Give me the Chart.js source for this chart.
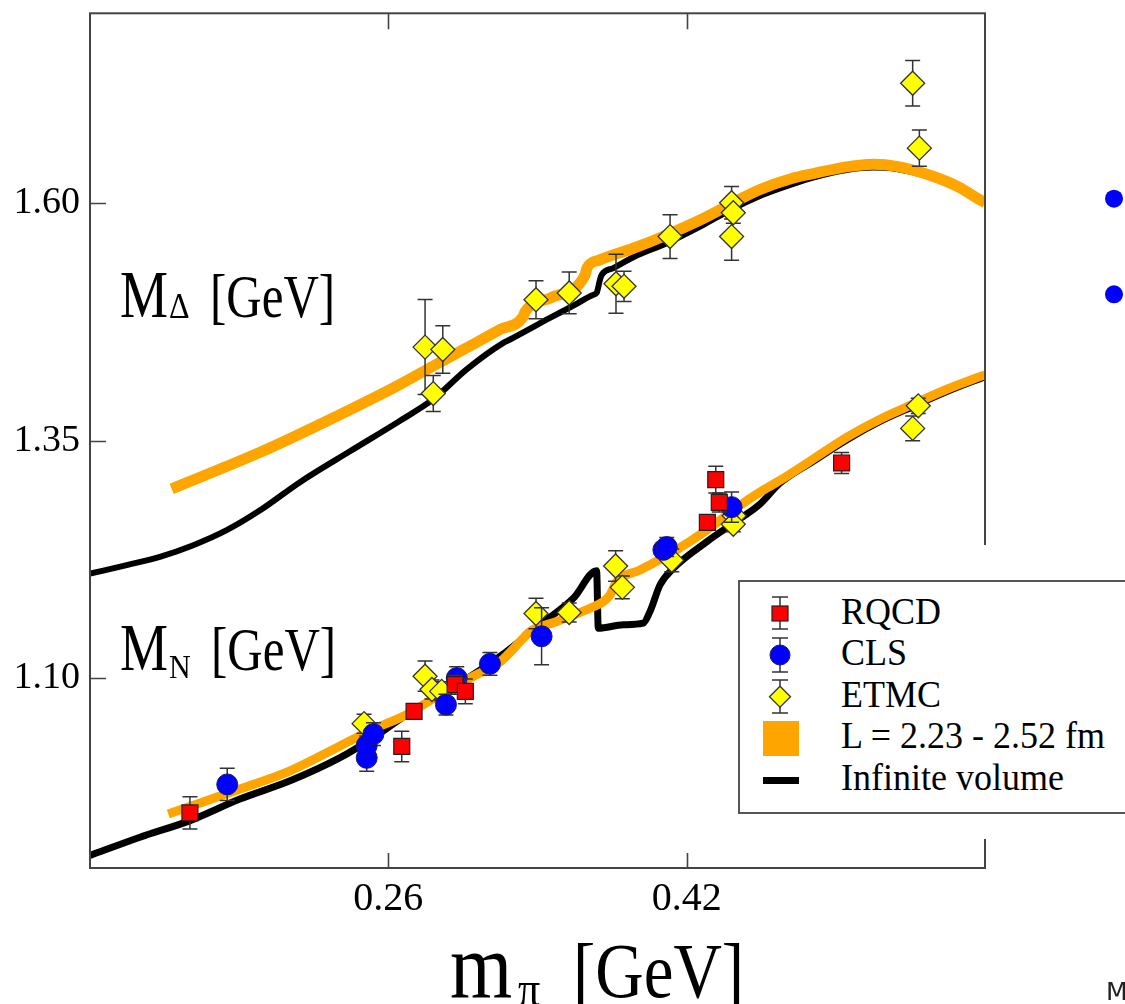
<!DOCTYPE html>
<html>
<head>
<meta charset="utf-8">
<script src="https://cdn.jsdelivr.net/npm/chart.js@4.4.1/dist/chart.umd.min.js"></script>
<style>
html,body{margin:0;padding:0;background:#fff;}
#wrap{position:relative;width:1125px;height:1004px;overflow:hidden;font-family:"Liberation Serif","Times New Roman",serif;color:#000;}
#c{position:absolute;left:0;top:0;}
.t{position:absolute;white-space:nowrap;line-height:1;margin:0;padding:0;}
#patch{position:absolute;left:722px;top:545px;width:410px;height:294px;background:#fff;}
#lbox{position:absolute;left:738px;top:580px;width:420px;height:234px;border:2px solid #555;box-sizing:border-box;background:#fff;}
#ov{position:absolute;left:0;top:0;}
</style>
</head>
<body>
<div id="wrap">
<canvas id="c" width="1125" height="1004"></canvas>
<div id="patch"></div>
<div id="lbox"></div>
<svg id="ov" width="1125" height="1004" xmlns="http://www.w3.org/2000/svg">
  <g stroke="#333" stroke-width="1.5">
    <line x1="780" y1="597" x2="780" y2="629"/><line x1="772" y1="597" x2="788" y2="597"/><line x1="772" y1="629" x2="788" y2="629"/>
    <line x1="780" y1="638" x2="780" y2="672"/><line x1="772" y1="638" x2="788" y2="638"/><line x1="772" y1="672" x2="788" y2="672"/>
    <line x1="780" y1="680" x2="780" y2="713"/><line x1="772" y1="680" x2="788" y2="680"/><line x1="772" y1="713" x2="788" y2="713"/>
  </g>
  <rect x="772" y="606" width="16" height="15" fill="#ff0000" stroke="#222" stroke-width="1.2"/>
  <circle cx="780" cy="655" r="10" fill="#0000ff" stroke="#1a1a66" stroke-width="1"/>
  <polygon points="769.5,696.7 780,686.2 790.5,696.7 780,707.2" fill="#ffff00" stroke="#333" stroke-width="1.3"/>
  <rect x="763" y="721" width="36" height="35" fill="#ffa500"/>
  <rect x="763" y="777" width="36" height="7" fill="#000"/>
  <circle cx="1114" cy="198.7" r="9" fill="#0000ff"/>
  <circle cx="1114" cy="294.3" r="9" fill="#0000ff"/>
</svg>
</div>
<script>
// ---------------- data ----------------
const xTickValues = [0.26, 0.42];
const yTickValues = [1.10, 1.35, 1.60];

const rqcdX   = [0.1536, 0.2672, 0.2738, 0.2958, 0.3013, 0.4311, 0.4356, 0.4375, 0.5031];
const rqcdY   = [0.958, 1.028, 1.065, 1.093, 1.086, 1.264, 1.309, 1.285, 1.3265];
const rqcdErr = [0.017, 0.016, 0.007, 0.010, 0.013, 0.006, 0.014, 0.010, 0.011];

const clsX   = [0.1736, 0.2484, 0.2484, 0.2520, 0.2909, 0.2967, 0.3145, 0.3422, 0.4075, 0.4093, 0.4441];
const clsY   = [0.988, 1.016, 1.029, 1.041, 1.072, 1.100, 1.115, 1.144, 1.235, 1.238, 1.280];
const clsErr = [0.017, 0.014, 0.010, 0.012, 0.011, 0.012, 0.012, 0.030, 0.007, 0.010, 0.016];

const etmcX   = [0.2470, 0.2797, 0.2834, 0.2886, 0.3392, 0.3570, 0.3819, 0.3855, 0.4120, 0.4455, 0.4450, 0.5442, 0.5412,
                 0.2797, 0.2892, 0.2841, 0.3392, 0.3570, 0.3821, 0.3864, 0.4111, 0.4441, 0.4441, 0.4450, 0.5412, 0.5448];
const etmcY   = [1.052, 1.102, 1.088, 1.086, 1.168, 1.169, 1.218, 1.1955, 1.224, 1.271, 1.262, 1.3867, 1.3629,
                 1.4485, 1.446, 1.3996, 1.4984, 1.5055, 1.5152, 1.5125, 1.5649, 1.5649, 1.6005, 1.590, 1.7263, 1.658];
const etmcErr = [0.010, 0.016, 0.010, 0.010, 0.016, 0.010, 0.016, 0.012, 0.012, 0.010, 0.008, 0.008, 0.013,
                 0.050, 0.025, 0.019, 0.020, 0.022, 0.031, 0.016, 0.023, 0.025, 0.017, 0.011, 0.024, 0.019];

const orangeDeltaX = [0.1438, 0.1912, 0.2287, 0.2663, 0.2841, 0.3020, 0.3199, 0.3324, 0.3333, 0.3467, 0.3655, 0.3665, 0.3735, 0.3914, 0.4093, 0.4272, 0.4477, 0.4584, 0.4763, 0.4879, 0.5058, 0.5201, 0.5326, 0.5505, 0.5657, 0.5791, 0.5800];
const orangeDeltaY = [1.2993, 1.3377, 1.3723, 1.4093, 1.4286, 1.4478, 1.4670, 1.4810, 1.4855, 1.5002, 1.5243, 1.5317, 1.5404, 1.5526, 1.5666, 1.5823, 1.6033, 1.6137, 1.6260, 1.6312, 1.6383, 1.6410, 1.6389, 1.6295, 1.6173, 1.6016, 1.6008];

const blackDeltaX = [0.1000, 0.1197, 0.1375, 0.1554, 0.1733, 0.1912, 0.2126, 0.2394, 0.2663, 0.2841, 0.3020, 0.3217, 0.3253, 0.3467, 0.3600, 0.3700, 0.3717, 0.3735, 0.3744, 0.3807, 0.3914, 0.4093, 0.4272, 0.4450, 0.4584, 0.4700, 0.4879, 0.5058, 0.5201, 0.5326, 0.5505, 0.5684, 0.5800];
const blackDeltaY = [1.2099, 1.2190, 1.2277, 1.2399, 1.2557, 1.2766, 1.3063, 1.3388, 1.3710, 1.3936, 1.4251, 1.4530, 1.4565, 1.4792, 1.4930, 1.5037, 1.5055, 1.5194, 1.5246, 1.5317, 1.5432, 1.5579, 1.5754, 1.5945, 1.6068, 1.6155, 1.6270, 1.6349, 1.6375, 1.6360, 1.6276, 1.6124, 1.6008];

const orangeNX = [0.1420, 0.1626, 0.1804, 0.2073, 0.2341, 0.2519, 0.2699, 0.2877, 0.3056, 0.3199, 0.3324, 0.3360, 0.3503, 0.3682, 0.3753, 0.3789, 0.3825, 0.3950, 0.4128, 0.4307, 0.4486, 0.4593, 0.4700, 0.4879, 0.5058, 0.5237, 0.5415, 0.5595, 0.5800];
const orangeNY = [0.9569, 0.9709, 0.9831, 1.0023, 1.0285, 1.0460, 1.0617, 1.0827, 1.1019, 1.1171, 1.1420, 1.1490, 1.1595, 1.1735, 1.1805, 1.1875, 1.2015, 1.2137, 1.2329, 1.2557, 1.2819, 1.2958, 1.3081, 1.3307, 1.3535, 1.3726, 1.3884, 1.4041, 1.4195];

const blackNX = [0.1000, 0.1268, 0.1536, 0.1804, 0.2073, 0.2341, 0.2519, 0.2699, 0.2877, 0.3056, 0.3199, 0.3413, 0.3592, 0.3717, 0.3726, 0.3860, 0.3967, 0.4003, 0.4057, 0.4128, 0.4307, 0.4486, 0.4593, 0.4700, 0.4879, 0.5058, 0.5237, 0.5415, 0.5595, 0.5800];
const blackNY = [0.9132, 0.9324, 0.9499, 0.9726, 0.9918, 1.0162, 1.0372, 1.0617, 1.0827, 1.1037, 1.1228, 1.1561, 1.1840, 1.2130, 1.1525, 1.1561, 1.1578, 1.1700, 1.1980, 1.2154, 1.2434, 1.2678, 1.2832, 1.3052, 1.3283, 1.3508, 1.3702, 1.3860, 1.4017, 1.4174];

const legendLabels = ['RQCD', 'CLS', 'ETMC', 'L = 2.23 - 2.52 fm', 'Infinite volume'];

// ---------------- helpers ----------------
const pts = (xs, ys) => xs.map((x, i) => ({x: x, y: ys[i]}));
const wrap = document.getElementById('wrap');
function addText(txt, left, baseline, size, sy, family, color) {
  const d = document.createElement('div');
  d.className = 't';
  const asc = family && family.indexOf('DejaVu') >= 0 ? 0.846 : 0.8375;
  d.style.left = left + 'px';
  d.style.top = (baseline - asc * size) + 'px';
  d.style.fontSize = size + 'px';
  if (family) d.style.fontFamily = family;
  if (color) d.style.color = color;
  if (sy && sy !== 1) {
    d.style.transformOrigin = '0 ' + (asc * size) + 'px';
    d.style.transform = 'scaleY(' + sy + ')';
  }
  d.textContent = txt;
  wrap.appendChild(d);
}

// legend texts
const legendBase = [624, 665.5, 707, 748.5, 790];
legendLabels.forEach((s, i) => addText(s, 841, legendBase[i], 36, 1.03));

// in-plot annotations
addText('M', 120, 317, 54, 1.24);
addText('\u0394', 169, 318, 32, 1.1);
addText('[GeV]', 210, 317, 49, 1.24);
addText('M', 120, 670, 54, 1.24);
addText('N', 169, 678, 30, 1.1);
addText('[GeV]', 211, 670, 49, 1.24);
// axis title
addText('m', 450, 997, 80, 1.17);
addText('\u03c0', 518, 1007, 44, 1.17);
addText('[GeV]', 573, 997, 67, 1.17);
// cut-off text from neighbouring panel
addText('M', 1106, 1000, 25, 1, '"DejaVu Sans", sans-serif', '#222');

// ---------------- plugin: error bars, frame, inward ticks ----------------
const framePlugin = {
  id: 'frameTicks',
  beforeDatasetDraw(chart, args) {
    const ds = chart.data.datasets[args.index];
    if (!ds.errors) return;
    const ctx = chart.ctx, xs = chart.scales.x, ys = chart.scales.y;
    ctx.save();
    ctx.strokeStyle = '#333';
    ctx.lineWidth = 1.5;
    ds.data.forEach((p, i) => {
      const e = ds.errors[i];
      const px = xs.getPixelForValue(p.x);
      const y1 = ys.getPixelForValue(p.y + e);
      const y2 = ys.getPixelForValue(p.y - e);
      ctx.beginPath();
      ctx.moveTo(px, y1); ctx.lineTo(px, y2);
      ctx.moveTo(px - 7.5, y1); ctx.lineTo(px + 7.5, y1);
      ctx.moveTo(px - 7.5, y2); ctx.lineTo(px + 7.5, y2);
      ctx.stroke();
    });
    ctx.restore();
  },
  afterDraw(chart) {
    const ctx = chart.ctx, a = chart.chartArea, xs = chart.scales.x, ys = chart.scales.y;
    ctx.save();
    ctx.strokeStyle = '#444';
    ctx.lineWidth = 2;
    ctx.strokeRect(a.left, a.top, a.right - a.left, a.bottom - a.top);
    ctx.lineWidth = 1.6;
    ctx.beginPath();
    xTickValues.forEach(v => {
      const px = Math.round(xs.getPixelForValue(v)) + 0.5;
      ctx.moveTo(px, a.bottom); ctx.lineTo(px, a.bottom - 15);
      ctx.moveTo(px, a.top); ctx.lineTo(px, a.top + 16);
    });
    yTickValues.forEach(v => {
      const py = Math.round(ys.getPixelForValue(v)) + 0.5;
      ctx.moveTo(a.left, py); ctx.lineTo(a.left + 16, py);
    });
    ctx.stroke();
    ctx.restore();
  }
};

const lineDs = (label, xs, ys, color, w) => ({
  label: label, data: pts(xs, ys), showLine: true, borderColor: color, backgroundColor: color,
  borderWidth: w, pointRadius: 0, pointHoverRadius: 0, fill: false, tension: 0.4,
  cubicInterpolationMode: 'monotone',
  borderJoinStyle: 'round', borderCapStyle: 'butt', clip: 0
});

new Chart(document.getElementById('c'), {
  type: 'scatter',
  data: {
    datasets: [
      {label: 'RQCD', data: pts(rqcdX, rqcdY), errors: rqcdErr, pointStyle: 'rect', pointRadius: 11.3, pointHoverRadius: 11.3,
       backgroundColor: '#ff0000', borderColor: '#222', borderWidth: 1.2, showLine: false},
      {label: 'CLS', data: pts(clsX, clsY), errors: clsErr, pointStyle: 'circle', pointRadius: 10.5, pointHoverRadius: 10.5,
       backgroundColor: '#0000ff', borderColor: '#1a1a66', borderWidth: 1, showLine: false},
      {label: 'ETMC', data: pts(etmcX, etmcY), errors: etmcErr, pointStyle: 'rectRot', pointRadius: 12, pointHoverRadius: 12,
       backgroundColor: '#ffff00', borderColor: '#333', borderWidth: 1.3, showLine: false},
      lineDs('L = 2.23 - 2.52 fm (Delta)', orangeDeltaX, orangeDeltaY, '#ffa500', 11),
      lineDs('L = 2.23 - 2.52 fm (N)', orangeNX, orangeNY, '#ffa500', 9),
      lineDs('Infinite volume (Delta)', blackDeltaX, blackDeltaY, '#000000', 6),
      lineDs('Infinite volume (N)', blackNX, blackNY, '#000000', 7)
    ]
  },
  options: {
    responsive: false,
    animation: false,
    devicePixelRatio: 1,
    events: [],
    layout: {padding: {top: 6, right: 140, left: 0, bottom: 0}},
    plugins: {legend: {display: false}, tooltip: {enabled: false}},
    scales: {
      x: {
        type: 'linear', min: 0.1, max: 0.58,
        afterBuildTicks: s => { s.ticks = xTickValues.map(v => ({value: v})); },
        afterFit: s => { s.height = 136; s.paddingLeft = 0; s.paddingRight = 0; },
        grid: {display: false, drawTicks: false},
        border: {display: false},
        ticks: {font: {family: 'Liberation Serif', size: 40}, color: '#000', padding: 7,
                maxRotation: 0, autoSkip: false, callback: v => Number(v).toFixed(2)}
      },
      y: {
        type: 'linear', min: 0.9, max: 1.8,
        afterBuildTicks: s => { s.ticks = yTickValues.map(v => ({value: v})); },
        afterFit: s => { s.width = 90; s.paddingTop = 0; s.paddingBottom = 0; },
        grid: {display: false, drawTicks: false},
        border: {display: false},
        ticks: {font: {family: 'Liberation Serif', size: 38}, color: '#000', padding: 10,
                autoSkip: false, callback: v => Number(v).toFixed(2)}
      }
    }
  },
  plugins: [framePlugin]
});
</script>
</body>
</html>
